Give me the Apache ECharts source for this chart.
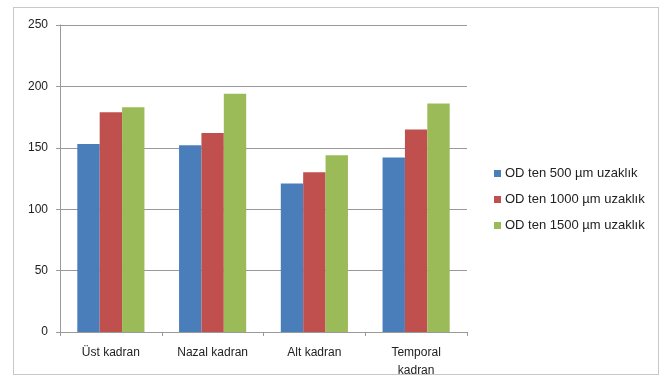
<!DOCTYPE html>
<html>
<head>
<meta charset="utf-8">
<script src="https://cdn.jsdelivr.net/npm/echarts@6/dist/echarts.min.js"></script>
<style>
  html, body { margin: 0; padding: 0; background: #fff; }
  #frame { position: absolute; left: 13px; top: 7px; width: 646px; height: 368px; border: 1px solid #c8c8c8; box-sizing: border-box; }
  #chart { width: 670px; height: 383px; }
</style>
</head>
<body>
<div id="frame"></div>
<div id="chart"></div>
<script>
var categories = ['Üst kadran', 'Nazal kadran', 'Alt kadran', 'Temporal\nkadran'];
var seriesNames = ['OD ten 500 µm uzaklık', 'OD ten 1000 µm uzaklık', 'OD ten 1500 µm uzaklık'];
var od500 = [153, 152, 121, 142];
var od1000 = [179, 162, 130, 165];
var od1500 = [183, 194, 144, 186];
var colors = ['#4a7ebb', '#c0504d', '#9bbb59'];

var chart = echarts.init(document.getElementById('chart'));
var font = 'Liberation Sans';

function bar(name, data) {
  return {
    name: name,
    type: 'bar',
    data: data,
    barGap: '0%',
    barCategoryGap: '34%'
  };
}

chart.setOption({
  animation: false,
  color: colors,
  grid: { left: 60, right: 203, top: 25, bottom: 51, containLabel: false },
  legend: {
    orient: 'vertical',
    left: 489,
    top: 162,
    itemWidth: 7,
    itemHeight: 7,
    itemGap: 13,
    icon: 'rect',
    textStyle: { fontFamily: font, fontSize: 13, color: '#222', padding: [0, 0, 0, -1] },
    data: seriesNames
  },
  xAxis: {
    type: 'category',
    data: categories,
    axisLine: { lineStyle: { color: '#999' } },
    axisTick: { show: true, length: 4, lineStyle: { color: '#999' } },
    axisLabel: { fontFamily: font, fontSize: 12, color: '#222', margin: 12, lineHeight: 18 }
  },
  yAxis: {
    type: 'value',
    min: 0,
    max: 250,
    interval: 50,
    axisLine: { show: true, lineStyle: { color: '#999' } },
    axisTick: { show: true, length: 4, lineStyle: { color: '#999' } },
    axisLabel: { fontFamily: font, fontSize: 12, color: '#222', margin: 12 },
    splitLine: { lineStyle: { color: '#999' } }
  },
  series: [
    bar(seriesNames[0], od500),
    bar(seriesNames[1], od1000),
    bar(seriesNames[2], od1500)
  ]
});
</script>
</body>
</html>
